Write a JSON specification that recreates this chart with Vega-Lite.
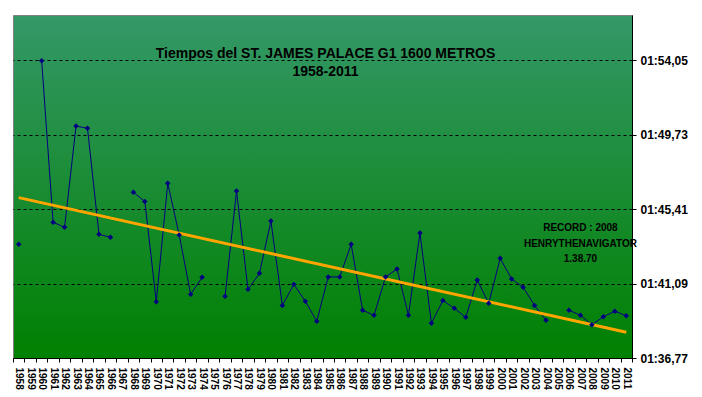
{
  "$schema": "https://vega.github.io/schema/vega-lite/v6.json",
  "width": 619,
  "height": 343,
  "autosize": {"type": "none"},
  "padding": {"left": 13, "top": 15, "right": 70, "bottom": 39},
  "background": "white",
  "title": {
    "text": "Tiempos del ST. JAMES PALACE G1 1600 METROS",
    "subtitle": "1958-2011",
    "anchor": "middle",
    "frame": "group",
    "offset": -64,
    "dx": 3,
    "font": "Liberation Sans",
    "fontSize": 14,
    "fontWeight": "bold",
    "color": "black",
    "subtitleFont": "Liberation Sans",
    "subtitleFontSize": 14,
    "subtitleFontWeight": "bold",
    "subtitleColor": "black",
    "subtitlePadding": 4
  },
  "datasets": {
    "times": [
      {"year": "1958", "seconds": 103.36},
      {"year": "1959", "seconds": null},
      {"year": "1960", "seconds": 114.01},
      {"year": "1961", "seconds": 104.64},
      {"year": "1962", "seconds": 104.35},
      {"year": "1963", "seconds": 110.22},
      {"year": "1964", "seconds": 110.09},
      {"year": "1965", "seconds": 103.94},
      {"year": "1966", "seconds": 103.77},
      {"year": "1967", "seconds": null},
      {"year": "1968", "seconds": 106.38},
      {"year": "1969", "seconds": 105.85},
      {"year": "1970", "seconds": 100.03},
      {"year": "1971", "seconds": 106.90},
      {"year": "1972", "seconds": 103.90},
      {"year": "1973", "seconds": 100.46},
      {"year": "1974", "seconds": 101.45},
      {"year": "1975", "seconds": null},
      {"year": "1976", "seconds": 100.35},
      {"year": "1977", "seconds": 106.45},
      {"year": "1978", "seconds": 100.75},
      {"year": "1979", "seconds": 101.68},
      {"year": "1980", "seconds": 104.71},
      {"year": "1981", "seconds": 99.82},
      {"year": "1982", "seconds": 101.04},
      {"year": "1983", "seconds": 100.06},
      {"year": "1984", "seconds": 98.90},
      {"year": "1985", "seconds": 101.47},
      {"year": "1986", "seconds": 101.47},
      {"year": "1987", "seconds": 103.36},
      {"year": "1988", "seconds": 99.54},
      {"year": "1989", "seconds": 99.25},
      {"year": "1990", "seconds": 101.47},
      {"year": "1991", "seconds": 101.93},
      {"year": "1992", "seconds": 99.25},
      {"year": "1993", "seconds": 104.02},
      {"year": "1994", "seconds": 98.78},
      {"year": "1995", "seconds": 100.11},
      {"year": "1996", "seconds": 99.65},
      {"year": "1997", "seconds": 99.13},
      {"year": "1998", "seconds": 101.29},
      {"year": "1999", "seconds": 99.94},
      {"year": "2000", "seconds": 102.55},
      {"year": "2001", "seconds": 101.35},
      {"year": "2002", "seconds": 100.87},
      {"year": "2003", "seconds": 99.82},
      {"year": "2004", "seconds": 98.96},
      {"year": "2005", "seconds": null},
      {"year": "2006", "seconds": 99.54},
      {"year": "2007", "seconds": 99.25},
      {"year": "2008", "seconds": 98.70},
      {"year": "2009", "seconds": 99.16},
      {"year": "2010", "seconds": 99.48},
      {"year": "2011", "seconds": 99.22}
    ],
    "trend": [
      {"year": "1958", "seconds": 106.07},
      {"year": "2011", "seconds": 98.26}
    ],
    "note": [
      {"year": "2007", "seconds": 104.29, "label": "RECORD : 2008\nHENRYTHENAVIGATOR\n1.38.70"}
    ]
  },
  "encoding": {
    "x": {
      "field": "year",
      "type": "ordinal",
      "scale": {
        "domain": ["1958","1959","1960","1961","1962","1963","1964","1965","1966","1967","1968","1969","1970","1971","1972","1973","1974","1975","1976","1977","1978","1979","1980","1981","1982","1983","1984","1985","1986","1987","1988","1989","1990","1991","1992","1993","1994","1995","1996","1997","1998","1999","2000","2001","2002","2003","2004","2005","2006","2007","2008","2009","2010","2011"],
        "paddingInner": 0,
        "paddingOuter": 0
      },
      "axis": {
        "title": null,
        "labelAngle": 90,
        "labelFont": "Liberation Sans",
        "labelFontSize": 10,
        "labelFontWeight": "bold",
        "labelColor": "black",
        "labelPadding": 5,
        "tickBand": "extent",
        "tickSize": 4,
        "tickColor": "black",
        "domainColor": "black",
        "grid": false
      }
    },
    "y": {
      "field": "seconds",
      "type": "quantitative",
      "scale": {"domain": [96.77, 116.66], "nice": false, "zero": false},
      "axis": {
        "orient": "right",
        "title": null,
        "values": [96.77, 101.09, 105.41, 109.73, 114.05],
        "labelExpr": "'01:' + replace(format(datum.value - 60, '05.2f'), '.', ',')",
        "labelFont": "Liberation Sans",
        "labelFontSize": 12,
        "labelFontWeight": "bold",
        "labelColor": "black",
        "labelPadding": 4,
        "tickSize": 4,
        "tickColor": "black",
        "domainColor": "black",
        "grid": true,
        "gridColor": "black",
        "gridDash": [3, 3],
        "gridWidth": 1
      }
    }
  },
  "layer": [
    {
      "data": {"name": "times"},
      "mark": {"type": "line", "color": "#000080", "strokeWidth": 1, "invalid": "break-paths-show-domains"}
    },
    {
      "data": {"name": "trend"},
      "mark": {"type": "line", "color": "#FFA500", "strokeWidth": 3}
    },
    {
      "data": {"name": "times"},
      "mark": {"type": "point", "shape": "diamond", "filled": true, "size": 30, "color": "#000080", "opacity": 1}
    },
    {
      "data": {"name": "note"},
      "mark": {"type": "text", "font": "Liberation Sans", "fontSize": 10, "fontWeight": "bold", "color": "black", "lineBreak": "\n", "lineHeight": 15.5, "align": "center", "baseline": "middle"},
      "encoding": {"text": {"field": "label"}}
    }
  ],
  "config": {
    "view": {
      "stroke": "#808080",
      "strokeWidth": 1,
      "fill": {
        "gradient": "linear",
        "x1": 0, "y1": 0, "x2": 0, "y2": 1,
        "stops": [
          {"offset": 0, "color": "#349868"},
          {"offset": 1, "color": "#008000"}
        ]
      }
    }
  }
}
